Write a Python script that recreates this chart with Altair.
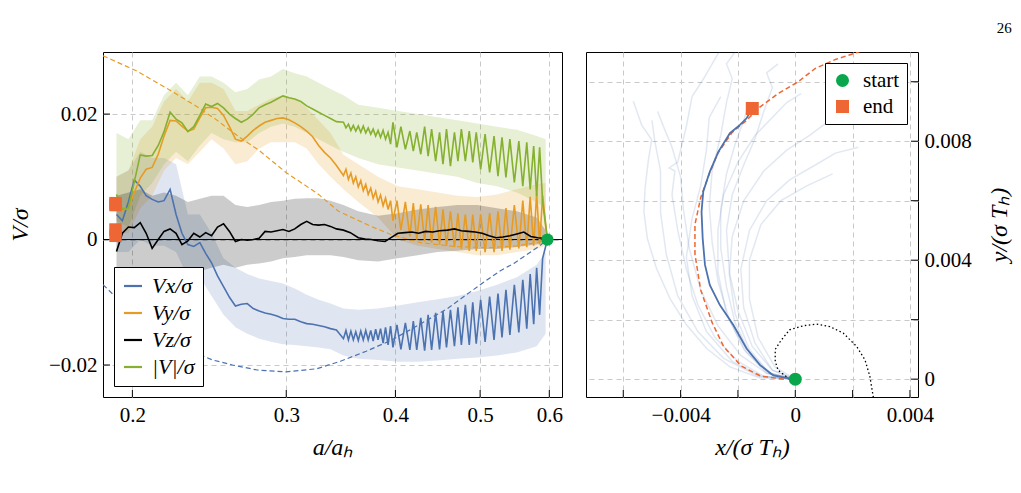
import altair as alt
import pandas as pd

BLUE = "#4c72b0"
ORANGE = "#e69c24"
GREEN = "#86b02f"
BLACK = "#000000"
START_C = "#0aa64b"
END_C = "#ee6633"
GRID = "#c9c9c9"
FONT = "Liberation Serif"

# ---------------- left panel data ----------------
series_names = ["Vx/σ", "Vy/σ", "Vz/σ", "|V|/σ"]
series_colors = [BLUE, ORANGE, BLACK, GREEN]

a_early = [0.1918, 0.1948, 0.1979, 0.2010, 0.2042, 0.2074, 0.2107, 0.2141, 0.2174, 0.2209,
           0.2244, 0.2279, 0.2315, 0.2351, 0.2389, 0.2426, 0.2464, 0.2503, 0.2543, 0.2583,
           0.2624, 0.2665, 0.2707, 0.2750, 0.2793, 0.2837, 0.2882, 0.2928, 0.2974, 0.3021,
           0.3068, 0.3117, 0.3166, 0.3216, 0.3267, 0.3318, 0.3371, 0.3424]
a_osc = [0.3488, 0.3511, 0.3534, 0.3557, 0.3580, 0.3603, 0.3627, 0.3651, 0.3675, 0.3699,
         0.3723, 0.3748, 0.3772, 0.3797, 0.3821, 0.3846, 0.3872, 0.3897, 0.3923, 0.3949,
         0.3974, 0.4016, 0.4058, 0.4106, 0.4155, 0.4193, 0.4231, 0.4276, 0.4320, 0.4360,
         0.4400, 0.4447, 0.4493, 0.4534, 0.4576, 0.4624, 0.4673, 0.4716, 0.4759, 0.4809,
         0.4859, 0.4904, 0.4949, 0.5007, 0.5066, 0.5127, 0.5187, 0.5241, 0.5297, 0.5352,
         0.5408, 0.5472, 0.5537, 0.5595, 0.5654, 0.5705, 0.5758, 0.5803, 0.5849, 0.5895]
a_start = 0.597

vmag_early = [0.0072, 0.0048, 0.0050, 0.0092, 0.0135, 0.0133, 0.0134, 0.0150, 0.0172, 0.0203,
              0.0192, 0.0186, 0.0172, 0.0180, 0.0198, 0.0216, 0.0212, 0.0217, 0.0210, 0.0200,
              0.0193, 0.0187, 0.0192, 0.0200, 0.0210, 0.0215, 0.0219, 0.0224, 0.0229, 0.0226,
              0.0224, 0.0220, 0.0213, 0.0208, 0.0203, 0.0198, 0.0193, 0.0188]
vmag_osc = [0.0187, 0.0178, 0.0184, 0.0174, 0.0182, 0.0173, 0.0181, 0.0171, 0.0181, 0.0170,
            0.0178, 0.0168, 0.0176, 0.0165, 0.0174, 0.0163, 0.0174, 0.0160, 0.0171, 0.0152,
            0.0187, 0.0147, 0.0180, 0.0144, 0.0173, 0.0141, 0.0171, 0.0136, 0.0180, 0.0133,
            0.0176, 0.0125, 0.0171, 0.0120, 0.0176, 0.0117, 0.0171, 0.0125, 0.0176, 0.0125,
            0.0173, 0.0123, 0.0171, 0.0112, 0.0168, 0.0107, 0.0165, 0.0101, 0.0163, 0.0099,
            0.0160, 0.0091, 0.0157, 0.0085, 0.0155, 0.0080, 0.0149, 0.0069, 0.0147, 0.0060]

vy_early = [0.0050, 0.0047, 0.0050, 0.0075, 0.0098, 0.0112, 0.0115, 0.0136, 0.0165, 0.0190,
            0.0189, 0.0181, 0.0173, 0.0176, 0.0194, 0.0210, 0.0211, 0.0209, 0.0198, 0.0180,
            0.0160, 0.0157, 0.0165, 0.0174, 0.0181, 0.0187, 0.0190, 0.0193, 0.0194, 0.0191,
            0.0186, 0.0180, 0.0173, 0.0164, 0.0150, 0.0139, 0.0130, 0.0118]
vy_osc = [0.0102, 0.0112, 0.0096, 0.0106, 0.0090, 0.0100, 0.0084, 0.0094, 0.0078, 0.0088,
          0.0072, 0.0082, 0.0066, 0.0077, 0.0060, 0.0071, 0.0054, 0.0066, 0.0048, 0.0062,
          0.0030, 0.0062, 0.0015, 0.0060, 0.0005, 0.0058, 0.0000, 0.0056, -0.0003, 0.0055,
          -0.0005, 0.0052, -0.0008, 0.0048, -0.0010, 0.0045, -0.0012, 0.0042, -0.0015, 0.0040,
          -0.0018, 0.0040, -0.0018, 0.0040, -0.0020, 0.0042, -0.0020, 0.0045, -0.0018, 0.0050,
          -0.0016, 0.0055, -0.0014, 0.0062, -0.0012, 0.0068, -0.0010, 0.0074, -0.0008, 0.0070]

vx_early = [0.0040, 0.0030, 0.0060, 0.0095, 0.0085, 0.0070, 0.0064, 0.0060, 0.0062, 0.0080,
            0.0040, 0.0010, -0.0008, -0.0011, -0.0005, -0.0022, -0.0037, -0.0058, -0.0075, -0.0092,
            -0.0106, -0.0103, -0.0102, -0.0110, -0.0114, -0.0117, -0.0119, -0.0122, -0.0126, -0.0127,
            -0.0127, -0.0131, -0.0134, -0.0135, -0.0137, -0.0139, -0.0142, -0.0144]
vx_osc = [-0.0158, -0.0145, -0.0160, -0.0146, -0.0160, -0.0147, -0.0161, -0.0146, -0.0160, -0.0145,
          -0.0160, -0.0145, -0.0162, -0.0143, -0.0160, -0.0142, -0.0165, -0.0140, -0.0168, -0.0138,
          -0.0172, -0.0136, -0.0175, -0.0133, -0.0176, -0.0130, -0.0176, -0.0125, -0.0177, -0.0120,
          -0.0176, -0.0117, -0.0175, -0.0114, -0.0172, -0.0112, -0.0170, -0.0108, -0.0168, -0.0104,
          -0.0168, -0.0100, -0.0166, -0.0096, -0.0163, -0.0091, -0.0160, -0.0086, -0.0156, -0.0080,
          -0.0152, -0.0072, -0.0148, -0.0064, -0.0142, -0.0055, -0.0135, -0.0045, -0.0120, -0.0030]

vz_early = [-0.0019, 0.0010, 0.0020, 0.0019, 0.0027, 0.0010, -0.0014, 0.0000, 0.0013, 0.0017,
            0.0010, -0.0008, -0.0002, 0.0010, 0.0004, 0.0011, 0.0006, 0.0020, 0.0025, 0.0013,
            -0.0003, 0.0000, -0.0001, 0.0000, 0.0002, 0.0013, 0.0012, 0.0014, 0.0016, 0.0013,
            0.0017, 0.0024, 0.0029, 0.0024, 0.0023, 0.0024, 0.0021, 0.0017]
a_vz_late = [0.3488, 0.3552, 0.3627, 0.3694, 0.3752, 0.3821, 0.3892, 0.3954, 0.4026, 0.4101,
             0.4176, 0.4253, 0.4331, 0.4412, 0.4493, 0.4588, 0.4673, 0.4759, 0.4846, 0.4936,
             0.5027, 0.5120, 0.5214, 0.5310, 0.5408, 0.5508, 0.5610, 0.5713, 0.5819, 0.5911]
vz_late = [0.0015, 0.0011, 0.0003, 0.0001, 0.0000, -0.0002, -0.0003, 0.0003, 0.0010, 0.0011,
           0.0012, 0.0010, 0.0013, 0.0012, 0.0014, 0.0015, 0.0017, 0.0014, 0.0013, 0.0012,
           0.0010, 0.0006, 0.0003, 0.0004, 0.0006, 0.0009, 0.0012, 0.0005, 0.0003, 0.0002]

band_a = [0.1918, 0.1979, 0.2042, 0.2107, 0.2174, 0.2244, 0.2315, 0.2389, 0.2464, 0.2543,
          0.2624, 0.2707, 0.2793, 0.2882, 0.2974, 0.3068, 0.3166, 0.3267, 0.3371, 0.3488,
          0.3627, 0.3821, 0.4026, 0.4242, 0.4470, 0.4709, 0.4962, 0.5228, 0.5508, 0.5803, 0.5942]
vmag_lo = [0.003, 0.002, 0.007, 0.009, 0.012, 0.014, 0.0125, 0.015, 0.017, 0.016,
           0.0155, 0.0155, 0.017, 0.018, 0.0185, 0.018, 0.017, 0.016, 0.015, 0.014,
           0.013, 0.012, 0.0115, 0.011, 0.0105, 0.010, 0.009, 0.0085, 0.0075, 0.006, 0.005]
vmag_hi = [0.017, 0.016, 0.019, 0.019, 0.023, 0.025, 0.023, 0.026, 0.026, 0.025,
           0.0235, 0.024, 0.0255, 0.026, 0.0272, 0.0265, 0.026, 0.025, 0.024, 0.023,
           0.0215, 0.021, 0.0205, 0.020, 0.0195, 0.019, 0.0185, 0.018, 0.0175, 0.0165, 0.016]
vy_lo = [0.001, 0.001, 0.005, 0.007, 0.011, 0.013, 0.012, 0.014, 0.016, 0.0145,
         0.012, 0.0125, 0.0145, 0.0155, 0.0155, 0.0155, 0.0145, 0.012, 0.010, 0.008,
         0.006, 0.0035, 0.000, -0.001, -0.0015, -0.002, -0.0025, -0.0025, -0.002, -0.0015, -0.001]
vy_hi = [0.010, 0.011, 0.016, 0.018, 0.022, 0.024, 0.022, 0.025, 0.025, 0.024,
         0.0205, 0.0205, 0.0215, 0.0225, 0.023, 0.0225, 0.021, 0.019, 0.017, 0.0135,
         0.012, 0.010, 0.0085, 0.008, 0.0075, 0.007, 0.0068, 0.0072, 0.008, 0.0088, 0.009]
vx_lo = [-0.002, -0.002, 0.000, -0.001, -0.001, -0.002, -0.006, -0.006, -0.009, -0.012,
         -0.0140, -0.0150, -0.0158, -0.0163, -0.0167, -0.0168, -0.0170, -0.0172, -0.0175, -0.0185,
         -0.0190, -0.0192, -0.0195, -0.0195, -0.0193, -0.0190, -0.0188, -0.0185, -0.0180, -0.0170, -0.0150]
vx_hi = [0.010, 0.011, 0.014, 0.013, 0.013, 0.012, 0.004, 0.004, 0.001, -0.003,
         -0.0045, -0.0055, -0.0062, -0.0066, -0.0070, -0.0078, -0.0088, -0.0096, -0.0102, -0.0110,
         -0.0112, -0.0110, -0.0105, -0.0100, -0.0095, -0.0090, -0.0082, -0.0072, -0.0060, -0.0040, -0.0020]
vz_lo = [-0.0060, -0.0055, -0.0050, -0.0055, -0.0050, -0.0050, -0.0055, -0.0050, -0.0045, -0.0040,
         -0.0045, -0.0040, -0.0038, -0.0035, -0.0030, -0.0028, -0.0025, -0.0025, -0.0025, -0.0028,
         -0.0033, -0.0035, -0.0030, -0.0025, -0.0020, -0.0018, -0.0015, -0.0015, -0.0012, -0.0008, -0.0005]
vz_hi = [0.0070, 0.0075, 0.0080, 0.0070, 0.0075, 0.0070, 0.0060, 0.0065, 0.0070, 0.0070,
         0.0055, 0.0052, 0.0055, 0.0060, 0.0062, 0.0065, 0.0066, 0.0066, 0.0062, 0.0055,
         0.0045, 0.0038, 0.0042, 0.0048, 0.0052, 0.0055, 0.0055, 0.0050, 0.0045, 0.0035, 0.0015]

dash_vy_a = [0.1851, 0.2021, 0.2209, 0.2364, 0.2490, 0.2652, 0.2793, 0.2998, 0.3267, 0.3443,
             0.3752, 0.3954, 0.4276, 0.4673, 0.5093, 0.5508, 0.5803, 0.597]
dash_vy = [0.0293, 0.0269, 0.0238, 0.0213, 0.0192, 0.0163, 0.0142, 0.0107, 0.0072, 0.0045,
           0.0021, 0.0008, -0.0005, -0.0011, -0.0013, -0.0010, -0.0005, 0.0]
dash_vx_a = [0.1851, 0.1903, 0.2042, 0.2209, 0.2327, 0.2471, 0.2604, 0.2779, 0.2998, 0.3250,
             0.3461, 0.3704, 0.3964, 0.4242, 0.4588, 0.5001, 0.5269, 0.5465, 0.5849, 0.597]
dash_vx = [-0.0072, -0.0088, -0.0125, -0.0158, -0.0177, -0.0192, -0.0200, -0.0208, -0.0211, -0.0206,
           -0.0194, -0.0178, -0.0160, -0.0137, -0.0110, -0.0072, -0.0050, -0.0038, -0.0010, 0.0]

end_a = [0.1913, 0.1913, 0.1913, 0.1913]
end_v = [0.0058, 0.0055, 0.0016, 0.0006]
x_ticks_l = [0.2, 0.3, 0.4, 0.5, 0.6]
y_ticks_l = [-0.02, 0.0, 0.02]

# ---------------- right panel data ----------------
mean_x = [0.0, -0.00019, -0.00077, -0.00123, -0.0017, -0.00216, -0.00263, -0.00298, -0.00315,
          -0.00323, -0.00327, -0.00321, -0.00298, -0.00268, -0.00228, -0.00193, -0.0017, -0.0015]
mean_y = [0.0, 0.00002, 0.00013, 0.00047, 0.00103, 0.00182, 0.00249, 0.00316, 0.00384,
          0.00473, 0.00563, 0.00631, 0.00698, 0.00765, 0.00827, 0.00855, 0.00877, 0.00911]
pred_x = [-0.0004, -0.0012, -0.0019, -0.0025, -0.0029, -0.0033, -0.0035, -0.0035, -0.0033, -0.0030,
          -0.0027, -0.0022, -0.0017, -0.0013, -0.0006, 0.0001, 0.0007, 0.0014, 0.0022, 0.0030]
pred_y = [0.0, 0.0001, 0.00045, 0.0011, 0.0019, 0.0030, 0.0042, 0.0052, 0.0061, 0.0069,
          0.0076, 0.0083, 0.0087, 0.0091, 0.0096, 0.0100, 0.01045, 0.01075, 0.0110, 0.0113]
orbit_x = [-0.0002, -0.0006, -0.0007, -0.0007, -0.0005, -0.0002, 0.0003, 0.00074, 0.0012, 0.00167,
           0.00214, 0.00243, 0.0026, 0.00272]
orbit_y = [0.0, 0.0003, 0.0006, 0.0010, 0.0013, 0.00166, 0.0018, 0.00185, 0.00177, 0.00155,
           0.0011, 0.00065, 0.0001, -0.0006]
faint_x = [
    [0, -0.00123, -0.00228, -0.00309, -0.00379, -0.00437, -0.00484, -0.00516, -0.00528, -0.00524, -0.00513, -0.00501, -0.00536, -0.00565],
    [0, -0.0011, -0.0020, -0.0028, -0.0034, -0.0038, -0.0041, -0.0043, -0.0042, -0.0044, -0.0041, -0.0038, -0.0036, -0.0032, -0.0029, -0.0026],
    [0, -0.0010, -0.0019, -0.0027, -0.0033, -0.0037, -0.0039, -0.0040, -0.0043, -0.0046, -0.0048],
    [0, -0.0009, -0.0017, -0.0023, -0.0027, -0.0029, -0.0030, -0.0029, -0.0026, -0.0024, -0.0022, -0.0024, -0.0021],
    [0, -0.0008, -0.0015, -0.0020, -0.0023, -0.0024, -0.0022, -0.0018, -0.0014, -0.0011, -0.0008, -0.0010, -0.0006],
    [0, -0.0008, -0.0014, -0.0018, -0.0019, -0.0016, -0.0010, -0.0002, 0.0007, 0.0014, 0.0022],
    [0, -0.0009, -0.0016, -0.0021, -0.0023, -0.0022, -0.0018, -0.0011, -0.0003, 0.0005, 0.0012],
    [0, -0.0010, -0.0018, -0.0024, -0.0027, -0.0027, -0.0025, -0.0020, -0.0014, -0.0008, -0.0003, 0.0002],
    [0, -0.0012, -0.0022, -0.0031, -0.0036, -0.0038, -0.0036, -0.0033, -0.0031, -0.0030, -0.0026],
    [0, -0.0013, -0.0025, -0.0034, -0.0041, -0.0045, -0.0047, -0.0047, -0.0049, -0.0050],
    [0, -0.0007, -0.0013, -0.0016, -0.0016, -0.0012, -0.0005, 0.0004, 0.0013],
    [0, -0.0009, -0.0016, -0.0021, -0.0024, -0.0026, -0.0026, -0.0024, -0.0021, -0.0018, -0.0016],
]
faint_y = [
    [0, 0.00004, 0.00041, 0.00103, 0.00182, 0.00271, 0.00372, 0.00473, 0.00563, 0.00642, 0.00732, 0.00805, 0.00855, 0.00934],
    [0, 0.0001, 0.0006, 0.0014, 0.0025, 0.0037, 0.0050, 0.0062, 0.0070, 0.0071, 0.0073, 0.0085, 0.0095, 0.0101, 0.0106, 0.0111],
    [0, 0.0002, 0.0008, 0.0018, 0.0030, 0.0044, 0.0057, 0.0068, 0.0078, 0.0085, 0.0090],
    [0, 0.0002, 0.0009, 0.0020, 0.0033, 0.0046, 0.0058, 0.0070, 0.0082, 0.0093, 0.0101, 0.0106, 0.0110],
    [0, 0.0003, 0.0011, 0.0023, 0.0036, 0.0050, 0.0062, 0.0072, 0.0081, 0.0090, 0.0098, 0.0103, 0.0106],
    [0, 0.0003, 0.0012, 0.0024, 0.0037, 0.0050, 0.0060, 0.0067, 0.0072, 0.0076, 0.0078],
    [0, 0.0002, 0.0010, 0.0022, 0.0035, 0.0048, 0.0060, 0.0070, 0.0077, 0.0082, 0.0087],
    [0, 0.0002, 0.0010, 0.0022, 0.0036, 0.0050, 0.0062, 0.0073, 0.0082, 0.0088, 0.0093, 0.0096],
    [0, 0.0001, 0.0006, 0.0016, 0.0028, 0.0041, 0.0054, 0.0065, 0.0077, 0.0088, 0.0095],
    [0, 0.0001, 0.0007, 0.0016, 0.0028, 0.0042, 0.0056, 0.0070, 0.0080, 0.0087],
    [0, 0.0004, 0.0014, 0.0027, 0.0040, 0.0052, 0.0060, 0.0065, 0.0069],
    [0, 0.0002, 0.0009, 0.0019, 0.0031, 0.0044, 0.0057, 0.0069, 0.0079, 0.0087, 0.0093],
]
marker_names = ["start", "end"]
marker_x = [0.0, -0.0015]
marker_y = [0.0, 0.0091]
x_ticks_r = [-0.006, -0.004, -0.002, 0.0, 0.002, 0.004]
y_ticks_r = [0.0, 0.002, 0.004, 0.006, 0.008, 0.010]

# ---------------- build tables ----------------
line_rows = []
def add_line(name, a_list, v_list):
    for i, (a, v) in enumerate(zip(a_list, v_list)):
        line_rows.append({"series": name, "a": a, "v": v, "i": i})

add_line("Vx/σ", a_early + a_osc + [a_start], vx_early + vx_osc + [0.0])
add_line("Vy/σ", a_early + a_osc + [a_start], vy_early + vy_osc + [0.0])
add_line("Vz/σ", a_early + a_vz_late + [a_start], vz_early + vz_late + [0.0])
add_line("|V|/σ", a_early + a_osc + [a_start], vmag_early + vmag_osc + [0.0])
lines_df = pd.DataFrame(line_rows)

W_L, H_L = 459, 345
W_R, H_R = 332, 345

xs_l = alt.Scale(type="log", domain=[0.1851, 0.6204], nice=False)
ys_l = alt.Scale(domain=[-0.0251, 0.0299], nice=False, zero=False)

x_axis_l = alt.Axis(values=x_ticks_l, format=".1f", title="a/aₕ", titleFontStyle="italic",
                    grid=True, ticks=False, domain=False, labelPadding=7, titlePadding=10,
                    labelFlush=False, labelAlign="center")
y_axis_l = alt.Axis(values=y_ticks_l, format=".2~f", title="V/σ", titleFontStyle="italic",
                    grid=True, ticks=False, domain=False, labelPadding=6, titlePadding=16)

def XL(f="a"):
    return alt.X(f"{f}:Q", scale=xs_l, axis=x_axis_l, title="a/aₕ")

def YL(f="v"):
    return alt.Y(f"{f}:Q", scale=ys_l, axis=y_axis_l, title="V/σ")

def band(lo, hi, color, op):
    df = pd.DataFrame({"a": band_a, "lo": lo, "hi": hi})
    return alt.Chart(df).mark_area(color=color, opacity=op, clip=True).encode(
        x=XL(), y=YL("lo"), y2="hi:Q")

bands = [band(vx_lo, vx_hi, BLUE, 0.18), band(vy_lo, vy_hi, ORANGE, 0.2),
         band(vmag_lo, vmag_hi, GREEN, 0.2), band(vz_lo, vz_hi, BLACK, 0.2)]

def dashed(a_list, v_list, color):
    df = pd.DataFrame({"a": a_list, "v": v_list})
    return alt.Chart(df).mark_line(color=color, strokeDash=[5, 3], strokeWidth=1.2, clip=True).encode(
        x=XL(), y=YL())

zero_line = alt.Chart(pd.DataFrame({"v": [0.0]})).mark_rule(color="black", strokeWidth=1).encode(y=YL())

yt_l = alt.Chart(pd.DataFrame({"v": y_ticks_l})).mark_rule(color="black", strokeWidth=1).encode(
    y=YL(), x=alt.value(0), x2=alt.value(7))
xt_l = alt.Chart(pd.DataFrame({"a": x_ticks_l})).mark_rule(color="black", strokeWidth=1).encode(
    x=XL(), y=alt.value(H_L - 7), y2=alt.value(H_L))

main_lines = alt.Chart(lines_df).mark_line(strokeWidth=1.6, clip=True).encode(
    x=XL(), y=YL(),
    color=alt.Color("series:N", scale=alt.Scale(domain=series_names, range=series_colors),
                    legend=alt.Legend(orient="bottom-left", offset=11, title=None,
                                      symbolType="stroke", symbolSize=324, symbolStrokeWidth=2.2,
                                      labelFont=FONT, labelFontSize=22, labelFontStyle="italic",
                                      strokeColor="black", fillColor="white", padding=8,
                                      rowPadding=5, labelOffset=8, cornerRadius=0, labelLimit=200)),
    order="i:Q",
)

end_pts = alt.Chart(pd.DataFrame({"a": end_a, "v": end_v})).mark_point(
    shape="square", filled=True, size=156, color=END_C, opacity=1).encode(x=XL(), y=YL())
start_pt = alt.Chart(pd.DataFrame({"a": [a_start], "v": [0.0]})).mark_point(
    shape="circle", filled=True, size=150, color=START_C, opacity=1).encode(x=XL(), y=YL())

left = alt.layer(*bands, dashed(dash_vx_a, dash_vx, BLUE), dashed(dash_vy_a, dash_vy, ORANGE),
                 zero_line, yt_l, xt_l, main_lines, end_pts, start_pt).properties(width=W_L, height=H_L)

# ---------------- right panel ----------------
xs_r = alt.Scale(domain=[-0.0073, 0.00428], nice=False, zero=False)
ys_r = alt.Scale(domain=[-0.0006, 0.011], nice=False, zero=False)

x_axis_r = alt.Axis(values=x_ticks_r, title="x/(σ Tₕ)", titleFontStyle="italic", grid=True,
                    ticks=False, domain=False, labelPadding=7, titlePadding=10, labelFlush=False,
                    labelAlign="center",
                    labelExpr="abs(datum.value) < 1e-9 ? '0' : (abs(datum.value + 0.004) < 1e-9 ? '−0.004' : (abs(datum.value - 0.004) < 1e-9 ? '0.004' : ''))")
y_axis_r = alt.Axis(values=y_ticks_r, orient="right", title="y/(σ Tₕ)", titleFontStyle="italic",
                    grid=True, ticks=False, domain=False, labelPadding=6, titlePadding=16,
                    titleAngle=270, titleBaseline="top",
                    labelExpr="abs(datum.value) < 1e-9 ? '0' : (abs(datum.value - 0.004) < 1e-9 ? '0.004' : (abs(datum.value - 0.008) < 1e-9 ? '0.008' : ''))")

def XR():
    return alt.X("x:Q", scale=xs_r, axis=x_axis_r, title="x/(σ Tₕ)")

def YR():
    return alt.Y("y:Q", scale=ys_r, axis=y_axis_r, title="y/(σ Tₕ)")

faint_rows = []
for k, (xl, yl) in enumerate(zip(faint_x, faint_y)):
    for i, (x, y) in enumerate(zip(xl, yl)):
        faint_rows.append({"traj": k, "i": i, "x": x, "y": y})
faint_df = pd.DataFrame(faint_rows)

def path(df, **mk):
    return alt.Chart(df).mark_line(clip=True, **mk).encode(x=XR(), y=YR(), order="i:Q")

faint = alt.Chart(faint_df).mark_line(clip=True, color=BLUE, opacity=0.16, strokeWidth=1.5).encode(
    x=XR(), y=YR(), detail="traj:N", order="i:Q")
orbit = path(pd.DataFrame({"x": orbit_x, "y": orbit_y, "i": range(len(orbit_x))}),
             color="black", strokeDash=[1.5, 2.5], strokeWidth=1.3)
pred = path(pd.DataFrame({"x": pred_x, "y": pred_y, "i": range(len(pred_x))}),
            color=END_C, strokeDash=[5, 3], strokeWidth=1.5)
mean = path(pd.DataFrame({"x": mean_x, "y": mean_y, "i": range(len(mean_x))}),
            color=BLUE, strokeWidth=1.8)

xt_r = alt.Chart(pd.DataFrame({"x": x_ticks_r})).mark_rule(color="black", strokeWidth=1).encode(
    x=XR(), y=alt.value(H_R - 7), y2=alt.value(H_R))
yt_r = alt.Chart(pd.DataFrame({"y": y_ticks_r})).mark_rule(color="black", strokeWidth=1).encode(
    y=YR(), x=alt.value(W_R - 7), x2=alt.value(W_R))

leg_r = alt.Legend(orient="top-right", offset=11, title=None, symbolSize=169, symbolStrokeWidth=0,
                   labelFont=FONT, labelFontSize=21, strokeColor="black", fillColor="white",
                   padding=7, rowPadding=4, labelOffset=10, cornerRadius=0)
markers = alt.Chart(pd.DataFrame({"marker": marker_names, "x": marker_x, "y": marker_y})).mark_point(
    filled=True, size=169, opacity=1).encode(
    x=XR(), y=YR(),
    color=alt.Color("marker:N", scale=alt.Scale(domain=marker_names, range=[START_C, END_C]), legend=leg_r),
    shape=alt.Shape("marker:N", scale=alt.Scale(domain=marker_names, range=["circle", "square"]), legend=leg_r),
)

right = alt.layer(faint, orbit, pred, mean, xt_r, yt_r, markers).properties(width=W_R, height=H_R)

chart = alt.hconcat(left, right, spacing=22).resolve_scale(
    color="independent", shape="independent"
).properties(
    title=alt.TitleParams("26", anchor="end", fontSize=15, font=FONT, fontWeight="normal", offset=16),
    padding={"left": 7, "top": 20, "right": 5, "bottom": 5},
).configure_view(stroke="black", strokeWidth=1).configure_axis(
    labelFont=FONT, titleFont=FONT, labelFontSize=21, titleFontSize=24, labelColor="black",
    titleColor="black", titleFontWeight="normal", gridColor=GRID, gridDash=[5, 4], gridWidth=1,
)

chart.save("out.html", embed_options={"renderer": "svg", "actions": False})
